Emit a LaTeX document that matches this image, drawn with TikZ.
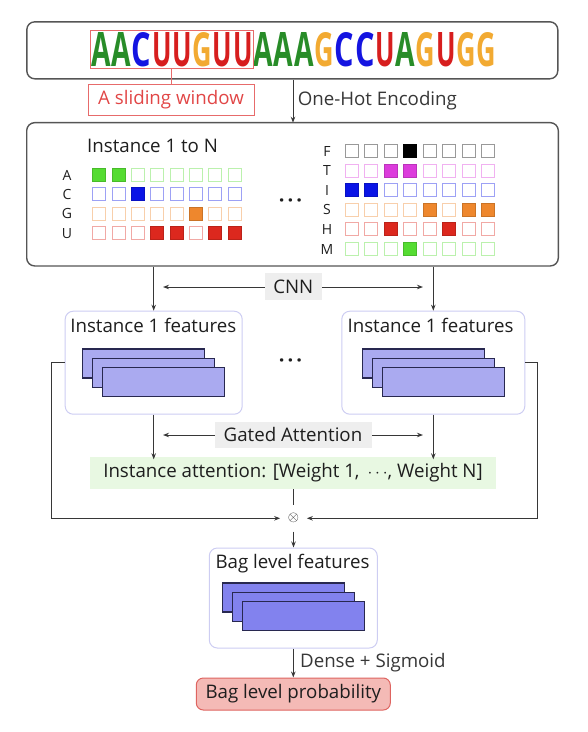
\documentclass[tikz,border=0pt]{standalone}
\usepackage{fontspec}
\setmainfont{Open Sans}
\usetikzlibrary{arrows,arrows.meta}
\usetikzlibrary{calc}
\definecolor{rahmen}{RGB}{85,85,85}
\definecolor{pfeil}{RGB}{55,55,55}
\definecolor{schrift}{RGB}{30,30,30}
\definecolor{ntA}{RGB}{40,140,40}
\definecolor{ntC}{RGB}{20,20,225}
\definecolor{ntG}{RGB}{242,170,50}
\definecolor{ntU}{RGB}{215,30,30}
\definecolor{hotgreen}{RGB}{85,220,50}
\definecolor{hotblue}{RGB}{10,20,230}
\definecolor{hotorange}{RGB}{238,135,45}
\definecolor{hotred}{RGB}{220,40,30}
\definecolor{hotmagenta}{RGB}{220,60,220}
\definecolor{hotblack}{RGB}{0,0,0}
\definecolor{featfill}{RGB}{170,170,240}
\definecolor{bagfill}{RGB}{130,130,238}
\definecolor{featrand}{RGB}{40,40,80}
\definecolor{lavendel}{RGB}{205,205,242}
\definecolor{labelgrau}{RGB}{238,238,238}
\definecolor{attgruen}{RGB}{232,248,226}
\definecolor{probrot}{RGB}{244,186,182}
\definecolor{probrand}{RGB}{222,100,96}
\definecolor{fensterrot}{RGB}{225,70,70}
\colorlet{fensterrot-lighter}{fensterrot!80}

\tikzset{
    bigbox/.style={draw=rahmen, line width=1.4pt, rounded corners=8pt, inner sep=0pt},
    featbox/.style={draw=lavendel, line width=1pt, rounded corners=8pt, inner sep=0pt},
    graulabel/.style={fill=labelgrau, inner sep=0pt},
    stapel/.style={draw=featrand, line width=1.2pt},
    zelle/.style={line width=1pt},
    gridlabel/.style={font=\fontsize{14}{14}\selectfont, inner sep=0pt},
    seqletter/.style={inner sep=0pt, font=\fontsize{20}{20}\selectfont\bfseries},
    punkte/.style={font=\fontsize{20}{20}\selectfont\bfseries, inner sep=0pt},
}

\begin{document}
\begin{tikzpicture}[x=1pt, y=-1pt, schrift, font=\fontsize{18.7}{22}\selectfont, >={Stealth[length=6pt,width=4.5pt]}]

    \useasboundingbox (0,0) rectangle (588,732);

    % sequence
    \node[bigbox, minimum width=531pt, minimum height=57pt] (seq) at (292.3,50.3) {};
    \foreach \b [count=\i from 0] in {A,A,C,U,U,G,U,U,A,A,A,G,C,C,U,A,G,U,G,G}
        \node[seqletter, text=nt\b] (b\i) at (100.85+20.3*\i,49.9) {\resizebox{19.5pt}{34pt}{\b}};

    \node[draw=fensterrot-lighter, line width=0.8pt, inner sep=0pt, minimum width=163pt, minimum height=37.6pt] (win) at (171.5,49.5) {};
    \node[draw=fensterrot-lighter, line width=0.8pt, text=fensterrot, inner sep=0pt, minimum width=166pt, minimum height=31pt] (winlbl) at (171,99.5) {A sliding window};
    \draw[fensterrot-lighter, line width=0.8pt] (win.south) -- (win.south |- winlbl.north);

    \coordinate (ohx) at (293,100);
    \draw[->, pfeil, line width=1pt] (seq.south -| ohx) -- node[right, xshift=1pt] (ohlbl) {One-Hot Encoding} (ohx |- 0,122.7);

    % one-hot
    \node[bigbox, minimum width=531.6pt, minimum height=143.3pt] (onehot) at (292.5,194.3) {};
    \node (titelA) at (152.6,146) {Instance 1 to N};

    \foreach \lbl/\farbe/\voll [count=\r from 0] in {A/hotgreen/{1,2}, C/hotblue/{3}, G/hotorange/{6}, U/hotred/{4,5,7,8}} {
        \node[gridlabel] (lbl\lbl) at (67,175+19.4*\r) {\lbl};
        \foreach \c in {1,...,8}
            \draw[zelle, draw=\farbe!40] (92.7+19.37*\c-19.37, 168.5+19.4*\r) rectangle ++(13,13);
        \foreach \c in \voll
            \draw[zelle, draw=\farbe!85!black, fill=\farbe] (92.7+19.37*\c-19.37, 168.5+19.4*\r) rectangle ++(13,13);
    }

    \foreach \lbl/\farbe/\voll [count=\r from 0] in {F/hotblack/{4}, T/hotmagenta/{3,4}, I/hotblue/{1,2}, S/hotorange/{5,7,8}, H/hotred/{3,6}, M/hotgreen/{4}} {
        \node[gridlabel] (lbl\lbl) at (327,151+19.6*\r) {\lbl};
        \foreach \c in {1,...,8}
            \draw[zelle, draw=\farbe!40] (345.5+19.45*\c-19.45, 144.5+19.6*\r) rectangle ++(13,13);
        \foreach \c in \voll
            \draw[zelle, draw=\farbe!85!black, fill=\farbe] (345.5+19.45*\c-19.45, 144.5+19.6*\r) rectangle ++(13,13);
    }
    \node[punkte] (dotsA) at (290.5,203) {·\hspace{3pt}·\hspace{3pt}·};

    % instances
    \node[featbox, minimum width=177pt, minimum height=103pt] (inst1) at (153.7,362.7) {};
    \node[featbox, minimum width=183pt, minimum height=103pt] (instN) at (433.3,362.7) {};
    \node (titel1) at (153.3,325) {Instance 1 features};
    \node (titelN) at (430.5,325) {Instance 1 features};
    \node[punkte] (dotsB) at (290.5,363) {·\hspace{3pt}·\hspace{3pt}·};

    \foreach \sx/\sy/\farbe in {82.7/349/featfill, 362.7/349/featfill, 222.7/583/bagfill}
        \foreach \k in {0,1,2}
            \draw[stapel, fill=\farbe] (\sx+10*\k, \sy+9.4*\k) rectangle ++(122,29);

    \draw[->, pfeil, line width=1pt] (onehot.south -| inst1) -- (inst1.north);
    \draw[->, pfeil, line width=1pt] (onehot.south -| instN) -- (instN.north);
    \coordinate (cnnL) at (163,287);
    \coordinate (cnnR) at (423,287);
    \draw[<->, pfeil, line width=1pt] (cnnL) -- (cnnR);
    \node[graulabel, minimum width=56.7pt, minimum height=27pt] (cnn) at (293.3,286.5) {CNN};

    % attention
    \node[fill=attgruen, inner sep=0pt, minimum width=406pt, minimum height=32pt] (att) at (293,473) {Instance attention: [Weight 1, \,$\cdots$, Weight N]};
    \draw[->, pfeil, line width=1pt] (inst1.south) -- ([yshift=-2.5pt]inst1.south |- att.north);
    \draw[->, pfeil, line width=1pt] (instN.south) -- ([yshift=-2.5pt]instN.south |- att.north);
    \coordinate (gatedL) at (163,435);
    \coordinate (gatedR) at (423,435);
    \draw[<->, pfeil, line width=1pt] (gatedL) -- (gatedR);
    \node[graulabel, minimum width=157pt, minimum height=26pt] (gated) at (293,434.7) {Gated Attention};

    \node[circle, inner sep=0pt, minimum size=10pt, outer sep=6pt, font=\Large] (mul) at (293.5,518.3) {$\otimes$};
    \draw[pfeil, line width=1pt] (att.south -| mul) -- (mul.north);
    \draw[->, pfeil, line width=1pt] (inst1.west) -- ++(-13.3,0) |- (mul.west);
    \draw[->, pfeil, line width=1pt] (instN.east) -- ++(11.7,0) |- (mul.east);

    % bag
    \node[featbox, minimum width=168pt, minimum height=100pt] (bag) at (293.3,598) {};
    \node (titelBag) at (292.5,563.3) {Bag level features};
    \draw[->, pfeil, line width=1pt] (mul.south) -- (mul.south |- bag.north);

    \node[draw=probrand, fill=probrot, line width=1pt, rounded corners=7pt, inner sep=0pt, minimum width=194pt, minimum height=32pt] (prob) at (293.3,694) {Bag level probability};
    \draw[->, pfeil, line width=1pt] (bag.south) -- node[right, xshift=3pt] (dense) {Dense + Sigmoid} (prob.north);

\end{tikzpicture}
\end{document}
